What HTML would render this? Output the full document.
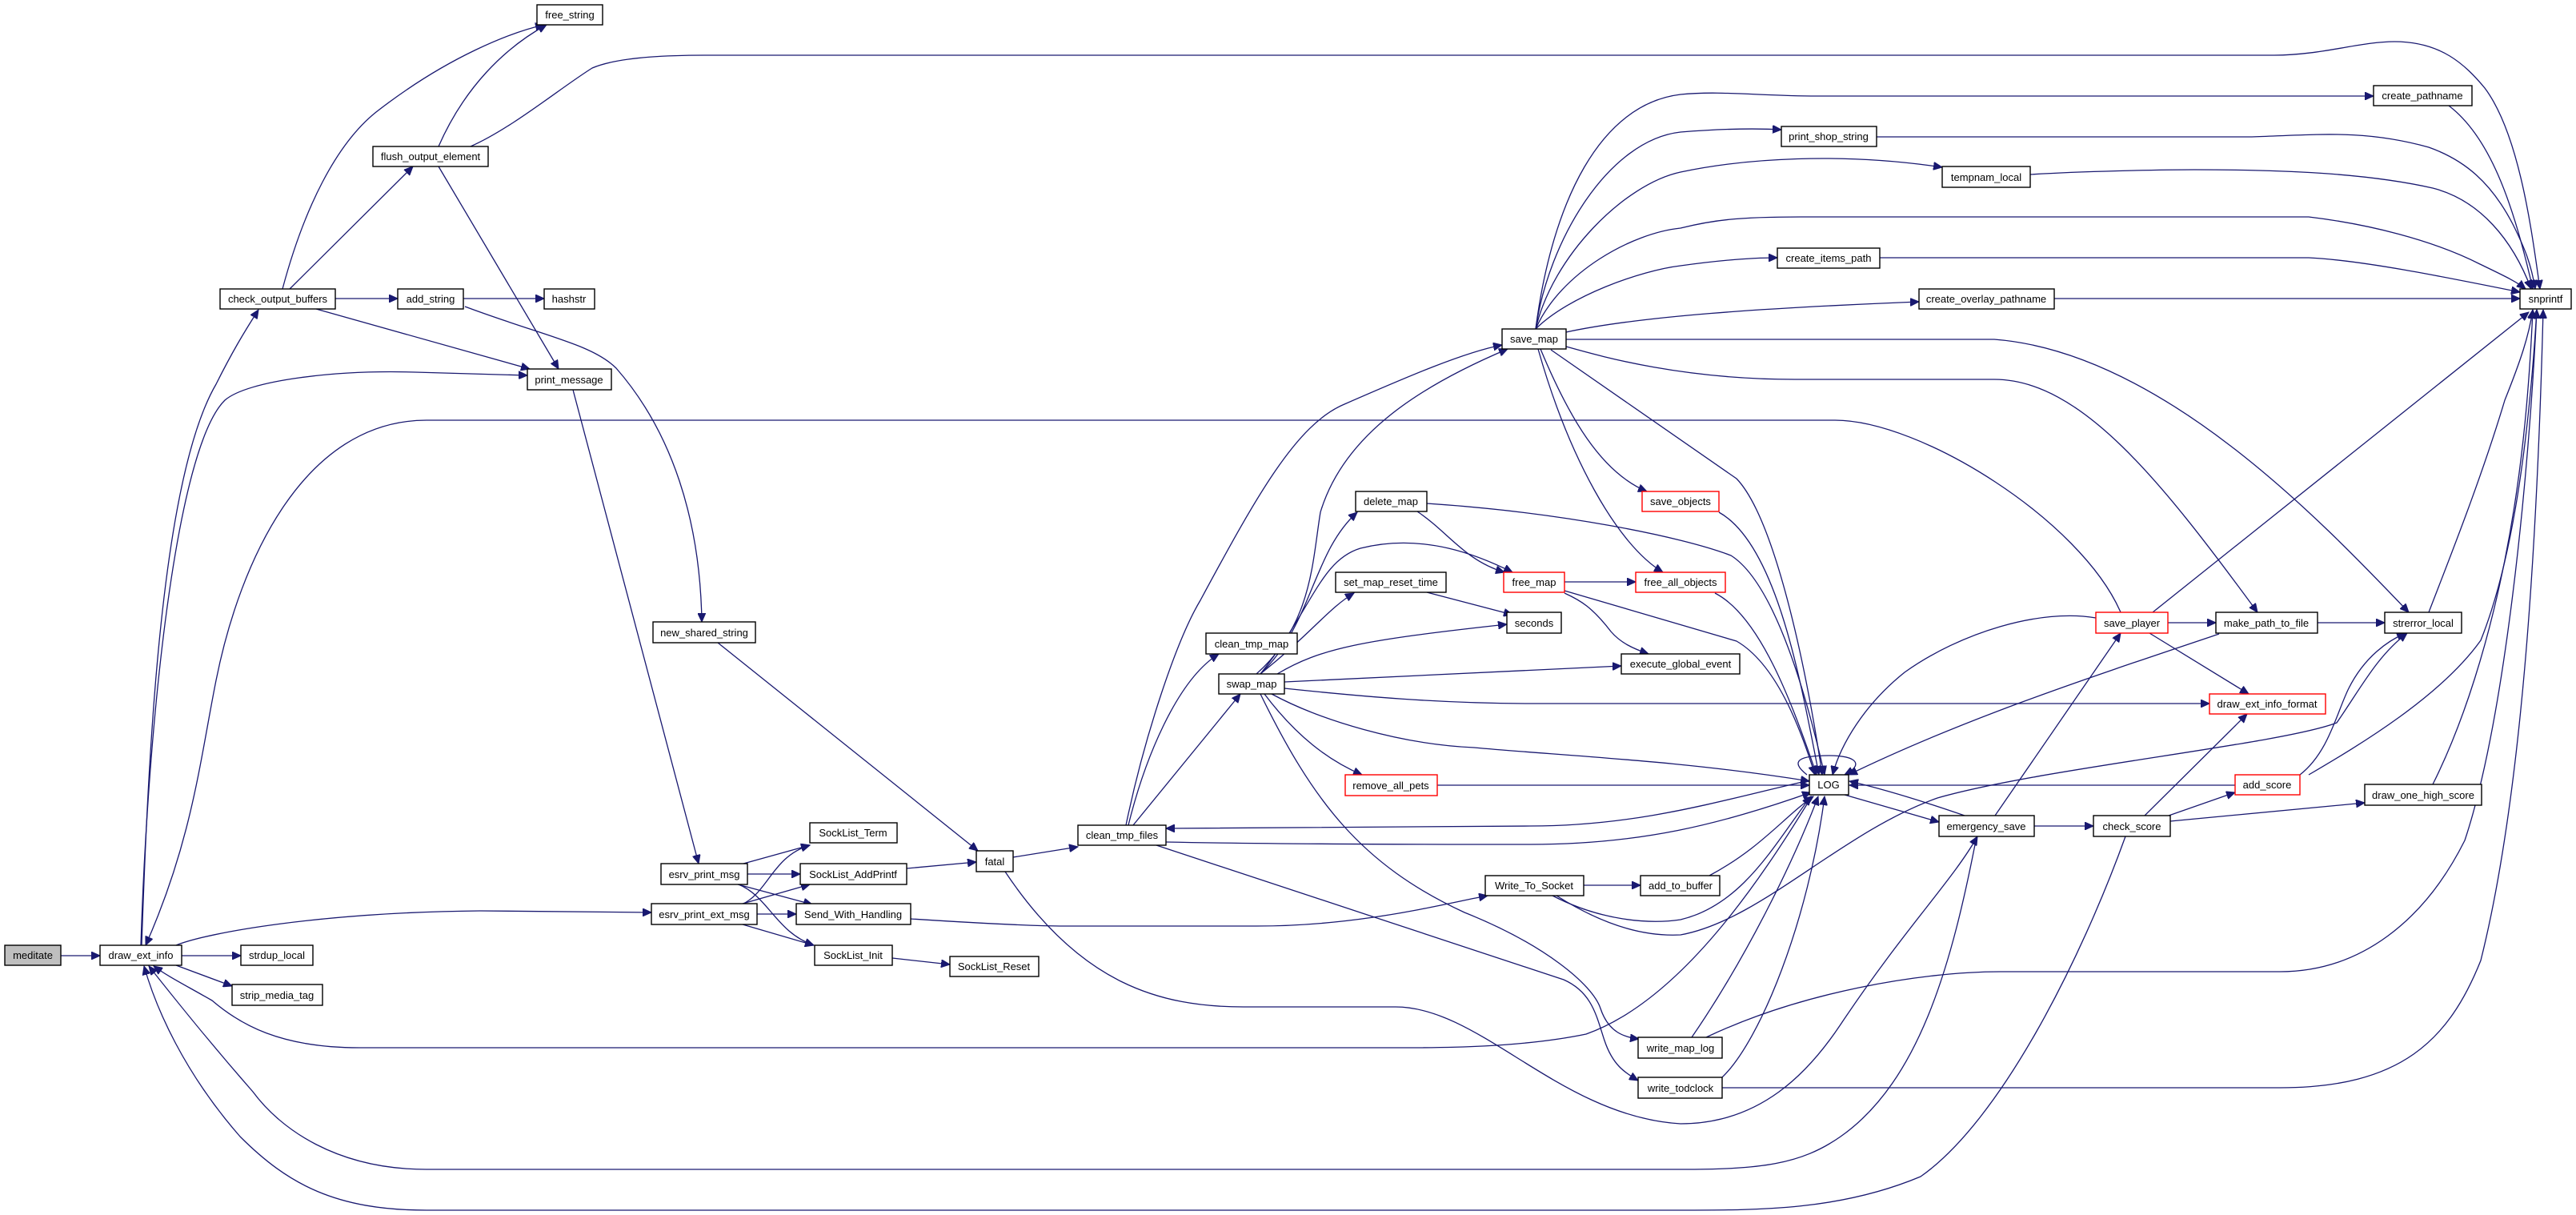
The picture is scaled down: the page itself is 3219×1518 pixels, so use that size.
<!DOCTYPE html>
<html><head><meta charset="utf-8"><style>
html,body{margin:0;padding:0;background:#fff;}
svg{display:block;}
text{font-family:"Liberation Sans",sans-serif;font-size:13px;text-anchor:middle;fill:#000;}
.e{fill:none;stroke:#191970;stroke-width:1.3;}
.n{fill:#fff;stroke:#000;stroke-width:1.4;}
.r{fill:#fff;stroke:#ff0000;stroke-width:1.4;}
</style></head><body>
<svg width="3219" height="1518" viewBox="0 0 3219 1518" xmlns="http://www.w3.org/2000/svg">
<defs>
<marker id="a" markerUnits="userSpaceOnUse" markerWidth="12" markerHeight="10" refX="11" refY="5" orient="auto">
<path d="M0,0 L11,5 L0,10 Z" fill="#191970" stroke="#191970"/>
</marker>
</defs>
<g class="e" marker-end="url(#a)">
<path d="M76,1194 L125,1194"/>
<path d="M227,1194 L301,1194"/>
<path d="M220,1206 L290,1232"/>
<path d="M177,1181 C185,950 200,600 270,480 C290,440 305,415 323,387"/>
<path d="M176,1181 C185,900 220,560 281,500 C310,475 420,462 519,465 L659,469"/>
<path d="M220,1181 C260,1165 400,1140 600,1138 L814,1140"/>
<path d="M353,361 C380,260 420,180 470,140 C560,70 640,40 680,31"/>
<path d="M362,361 L516,208"/>
<path d="M419,373 L497,373"/>
<path d="M395,386 L662,461"/>
<path d="M579,373 L680,373"/>
<path d="M581,383 C680,420 740,430 770,460 C840,540 875,650 877,777"/>
<path d="M548,183 C580,110 630,60 683,31"/>
<path d="M588,183 C640,160 700,110 740,85 C770,72 830,69 880,69 L2842,69 C2900,69 2950,52 2992,52 C3050,52 3080,80 3105,110 C3150,170 3165,300 3174,361"/>
<path d="M548,208 L698,461"/>
<path d="M716,487 L873,1079"/>
<path d="M897,803 L1222,1063"/>
<path d="M929,1079 L1012,1056"/>
<path d="M934,1092 L1000,1092"/>
<path d="M922,1105 L1015,1130"/>
<path d="M923,1105 C960,1120 970,1165 1017,1181"/>
<path d="M927,1130 C960,1115 965,1070 1012,1056"/>
<path d="M928,1129 L1012,1105"/>
<path d="M946,1142 L995,1142"/>
<path d="M928,1155 L1017,1181"/>
<path d="M1133,1085 L1220,1077"/>
<path d="M1115,1197 L1187,1205"/>
<path d="M1138,1148 C1200,1152 1280,1157 1330,1157 L1570,1157 C1700,1157 1800,1130 1859,1119"/>
<path d="M1266,1071 L1347,1058"/>
<path d="M1256,1089 C1350,1230 1450,1258 1554,1258 L1744,1258 C1850,1258 1950,1395 2100,1404 C2200,1404 2260,1340 2300,1280 C2380,1160 2440,1100 2471,1045"/>
<path d="M1407,1031 C1430,920 1470,800 1500,750 C1570,620 1620,530 1680,505 C1760,470 1830,440 1877,431"/>
<path d="M1410,1031 C1430,950 1470,850 1523,817"/>
<path d="M1416,1031 L1550,867"/>
<path d="M1457,1052 C1600,1055 1800,1055 1912,1055 C2050,1055 2150,1030 2263,990"/>
<path d="M2261,975 C2150,1000 2050,1032 1912,1032 L1457,1035"/>
<path d="M1445,1056 L1954,1224 C1990,1240 1995,1270 2005,1300 C2015,1330 2030,1340 2047,1350"/>
<path d="M1570,842 C1640,780 1640,700 1650,640 C1680,540 1780,480 1884,436"/>
<path d="M1575,842 C1640,780 1640,690 1696,640"/>
<path d="M1575,842 C1640,760 1650,700 1700,685 C1780,665 1850,695 1890,715"/>
<path d="M1575,842 C1640,790 1660,760 1692,741"/>
<path d="M1596,842 C1650,810 1700,800 1883,780"/>
<path d="M1605,852 L2026,832"/>
<path d="M1605,860 C1700,870 1800,879 1912,879 L2761,879"/>
<path d="M1589,867 C1650,900 1750,930 1842,934 C1950,944 2100,950 2261,976"/>
<path d="M1580,867 C1620,920 1660,950 1702,968"/>
<path d="M1575,867 C1640,1000 1700,1080 1830,1140 C1930,1180 1990,1230 2000,1260 C2010,1290 2030,1296 2048,1298"/>
<path d="M1796,981 L2261,981"/>
<path d="M1919,411 C1940,250 2000,130 2100,118 C2150,113 2200,120 2270,120 L2966,120"/>
<path d="M1919,411 C1935,300 2010,175 2100,165 C2150,161 2190,160 2226,162"/>
<path d="M1919,411 C1940,320 2030,230 2100,215 C2180,198 2300,190 2427,209"/>
<path d="M1919,411 C1950,340 2040,291 2100,285 C2140,275 2171,271 2250,271 L2885,271 C2960,280 3040,300 3099,330 C3130,345 3145,352 3156,361"/>
<path d="M1919,411 C1960,370 2050,338 2100,332 C2150,325 2190,322 2221,322"/>
<path d="M1957,415 C2050,395 2200,385 2398,377"/>
<path d="M2349,322 L2885,322 C2950,325 3050,345 3149,365"/>
<path d="M2567,373 L3149,373"/>
<path d="M2345,171 L2814,171 C2900,168 2956,162 3035,184 C3080,200 3113,228 3140,280 C3155,310 3163,330 3168,361"/>
<path d="M2537,218 C2600,214 2700,212 2742,212 C2850,212 2956,216 3040,235 C3099,250 3140,300 3163,361"/>
<path d="M3060,132 C3110,170 3140,250 3165,361"/>
<path d="M1957,424 L2492,424 C2700,440 2900,650 3010,765"/>
<path d="M1957,433 C2000,445 2100,474 2243,474 L2492,474 C2600,474 2700,600 2821,765"/>
<path d="M1938,437 L2170,598 C2220,650 2260,850 2277,968"/>
<path d="M1925,436 C1960,520 2000,590 2058,614"/>
<path d="M1922,436 C1960,570 2020,680 2078,715"/>
<path d="M2148,640 C2220,680 2250,850 2273,968"/>
<path d="M2143,741 C2200,770 2240,880 2270,968"/>
<path d="M1783,629 C1950,640 2100,670 2163,694 C2220,730 2260,880 2280,968"/>
<path d="M1955,738 L2170,801 C2220,830 2250,910 2268,968"/>
<path d="M1955,727 L2044,727"/>
<path d="M1955,741 C1975,750 1990,759 2013,789 C2025,803 2040,810 2060,817"/>
<path d="M1783,740 L1890,768"/>
<path d="M1771,639 C1810,665 1830,700 1880,715"/>
<path d="M2258,968 C2235,950 2250,944 2285,944 C2320,944 2330,955 2305,968"/>
<path d="M1979,1106 L2050,1106"/>
<path d="M1940,1119 C2000,1150 2060,1155 2100,1149 C2180,1130 2220,1050 2263,995"/>
<path d="M1945,1119 C2010,1160 2060,1170 2100,1168 C2200,1150 2300,1040 2421,997 C2550,960 2850,930 2920,903 C2950,860 2970,820 3008,791"/>
<path d="M2136,1094 C2200,1060 2230,1020 2266,995"/>
<path d="M2114,1296 C2180,1200 2240,1080 2272,995"/>
<path d="M2132,1296 C2250,1240 2400,1214 2500,1214 L2849,1214 C2950,1214 3030,1150 3080,1050 C3130,900 3160,600 3170,387"/>
<path d="M2152,1346 C2200,1300 2260,1150 2280,995"/>
<path d="M2152,1359 L2849,1359 C3000,1359 3060,1300 3100,1200 C3150,1000 3170,700 3178,387"/>
<path d="M2264,995 C2200,1100 2100,1250 1982,1292 C1900,1309 1800,1309 1758,1309 L449,1309 C350,1309 300,1280 265,1250 C230,1230 210,1220 192,1207"/>
<path d="M2470,1045 C2440,1200 2400,1350 2300,1420 C2250,1455 2200,1461 2100,1461 L533,1461 C420,1461 350,1410 316,1364 C260,1300 220,1250 186,1207"/>
<path d="M2656,1045 C2600,1200 2500,1400 2400,1470 C2300,1512 2200,1512 2100,1512 L533,1512 C420,1512 360,1480 300,1420 C230,1340 195,1260 180,1207"/>
<path d="M2305,993 L2423,1027"/>
<path d="M2455,1019 C2400,1000 2350,985 2311,976"/>
<path d="M2542,1032 L2616,1032"/>
<path d="M2493,1019 L2650,791"/>
<path d="M2680,1019 L2808,892"/>
<path d="M2710,1019 L2793,990"/>
<path d="M2712,1026 L2955,1003"/>
<path d="M2793,981 L2311,981"/>
<path d="M2874,968 C2910,940 2920,890 2935,860 C2955,820 2985,800 3006,791"/>
<path d="M2885,968 C2950,930 3050,870 3100,800 C3140,700 3160,550 3170,387"/>
<path d="M3040,980 C3080,900 3110,800 3130,700 C3150,600 3160,500 3165,387"/>
<path d="M3035,765 C3060,700 3100,600 3130,500 C3150,450 3160,420 3165,387"/>
<path d="M2690,765 L3160,390"/>
<path d="M2709,778 L2769,778"/>
<path d="M2686,791 L2810,867"/>
<path d="M2619,772 C2550,760 2450,790 2380,840 C2330,880 2300,930 2290,968"/>
<path d="M2896,778 L2980,778"/>
<path d="M2773,792 C2600,850 2450,900 2310,968"/>
</g>
<g>
<path d="M2650,765 C2600,650 2400,525 2293,525 L533,525 C380,525 300,700 270,850 C250,950 240,1050 182,1181" class="e" marker-end="url(#a)"/>
</g>
<g>
<rect x="6" y="1181" width="70" height="25" fill="#bfbfbf" stroke="#000" stroke-width="1.4"/><text x="41" y="1198">meditate</text>
<rect class="n" x="125" y="1181" width="102" height="25"/><text x="176" y="1198">draw_ext_info</text>
<rect class="n" x="301" y="1181" width="90" height="25"/><text x="346" y="1198">strdup_local</text>
<rect class="n" x="290" y="1230" width="113" height="26"/><text x="346" y="1248">strip_media_tag</text>
<rect class="n" x="275" y="361" width="144" height="25"/><text x="347" y="378">check_output_buffers</text>
<rect class="n" x="497" y="361" width="82" height="25"/><text x="538" y="378">add_string</text>
<rect class="n" x="680" y="361" width="63" height="25"/><text x="711" y="378">hashstr</text>
<rect class="n" x="659" y="461" width="105" height="26"/><text x="711" y="479">print_message</text>
<rect class="n" x="466" y="183" width="144" height="25"/><text x="538" y="200">flush_output_element</text>
<rect class="n" x="671" y="6" width="82" height="25"/><text x="712" y="23">free_string</text>
<rect class="n" x="816" y="777" width="128" height="26"/><text x="880" y="795">new_shared_string</text>
<rect class="n" x="826" y="1079" width="108" height="26"/><text x="880" y="1097">esrv_print_msg</text>
<rect class="n" x="814" y="1129" width="132" height="26"/><text x="880" y="1147">esrv_print_ext_msg</text>
<rect class="n" x="1012" y="1028" width="109" height="25"/><text x="1066" y="1045">SockList_Term</text>
<rect class="n" x="1000" y="1079" width="133" height="26"/><text x="1066" y="1097">SockList_AddPrintf</text>
<rect class="n" x="995" y="1129" width="143" height="26"/><text x="1066" y="1147">Send_With_Handling</text>
<rect class="n" x="1018" y="1181" width="97" height="25"/><text x="1066" y="1198">SockList_Init</text>
<rect class="n" x="1187" y="1195" width="111" height="25"/><text x="1242" y="1212">SockList_Reset</text>
<rect class="n" x="1220" y="1063" width="46" height="26"/><text x="1243" y="1081">fatal</text>
<rect class="n" x="1347" y="1031" width="110" height="25"/><text x="1402" y="1048">clean_tmp_files</text>
<rect class="n" x="1507" y="791" width="114" height="26"/><text x="1564" y="809">clean_tmp_map</text>
<rect class="n" x="1523" y="842" width="82" height="25"/><text x="1564" y="859">swap_map</text>
<rect class="n" x="1883" y="765" width="68" height="26"/><text x="1917" y="783">seconds</text>
<rect class="n" x="2026" y="817" width="148" height="25"/><text x="2100" y="834">execute_global_event</text>
<rect class="r" x="1681" y="968" width="115" height="26"/><text x="1738" y="986">remove_all_pets</text>
<rect class="n" x="1877" y="411" width="80" height="25"/><text x="1917" y="428">save_map</text>
<rect class="n" x="1694" y="614" width="89" height="25"/><text x="1738" y="631">delete_map</text>
<rect class="n" x="1669" y="715" width="138" height="25"/><text x="1738" y="732">set_map_reset_time</text>
<rect class="r" x="1879" y="715" width="76" height="25"/><text x="1917" y="732">free_map</text>
<rect class="r" x="2052" y="614" width="96" height="25"/><text x="2100" y="631">save_objects</text>
<rect class="r" x="2044" y="715" width="112" height="25"/><text x="2100" y="732">free_all_objects</text>
<rect class="n" x="1856" y="1094" width="123" height="25"/><text x="1917" y="1111">Write_To_Socket</text>
<rect class="n" x="2050" y="1094" width="99" height="25"/><text x="2100" y="1111">add_to_buffer</text>
<rect class="n" x="2047" y="1296" width="105" height="26"/><text x="2100" y="1314">write_map_log</text>
<rect class="n" x="2047" y="1346" width="105" height="26"/><text x="2100" y="1364">write_todclock</text>
<rect class="n" x="2966" y="107" width="123" height="25"/><text x="3027" y="124">create_pathname</text>
<rect class="n" x="2226" y="158" width="119" height="25"/><text x="2285" y="175">print_shop_string</text>
<rect class="n" x="2427" y="208" width="110" height="26"/><text x="2482" y="226">tempnam_local</text>
<rect class="n" x="2221" y="310" width="128" height="25"/><text x="2285" y="327">create_items_path</text>
<rect class="n" x="2398" y="361" width="169" height="25"/><text x="2482" y="378">create_overlay_pathname</text>
<rect class="n" x="3149" y="361" width="64" height="25"/><text x="3181" y="378">snprintf</text>
<rect class="r" x="2619" y="765" width="90" height="26"/><text x="2664" y="783">save_player</text>
<rect class="n" x="2769" y="765" width="127" height="26"/><text x="2832" y="783">make_path_to_file</text>
<rect class="n" x="2980" y="765" width="96" height="26"/><text x="3028" y="783">strerror_local</text>
<rect class="r" x="2761" y="867" width="145" height="25"/><text x="2833" y="884">draw_ext_info_format</text>
<rect class="n" x="2261" y="968" width="49" height="25"/><text x="2285" y="985">LOG</text>
<rect class="r" x="2793" y="968" width="81" height="25"/><text x="2833" y="985">add_score</text>
<rect class="n" x="2955" y="980" width="146" height="26"/><text x="3028" y="998">draw_one_high_score</text>
<rect class="n" x="2423" y="1019" width="119" height="26"/><text x="2482" y="1037">emergency_save</text>
<rect class="n" x="2616" y="1019" width="96" height="26"/><text x="2664" y="1037">check_score</text>
</g>
</svg>
</body></html>
